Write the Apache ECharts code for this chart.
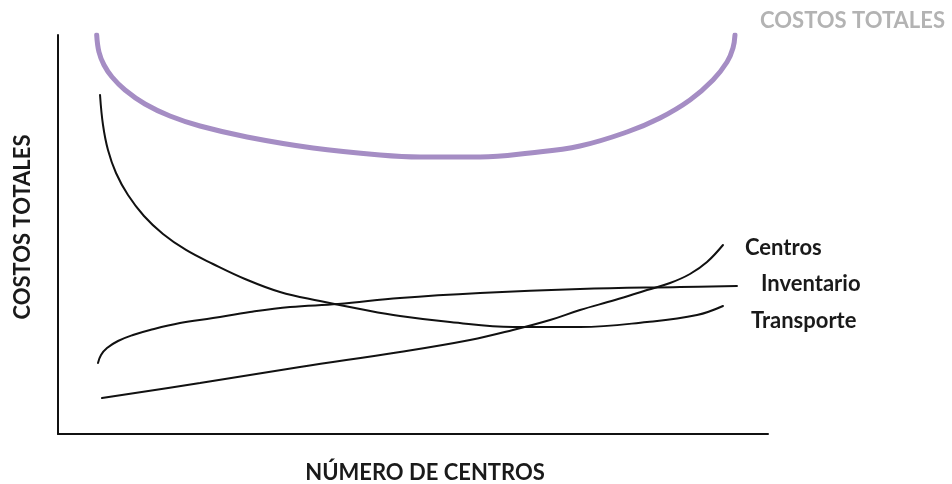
<!DOCTYPE html>
<html>
<head>
<meta charset="UTF-8">
<title></title>
<script src="https://cdn.jsdelivr.net/npm/echarts@6/dist/echarts.min.js"></script>
<style>
  html, body { margin: 0; padding: 0; background: #fff; }
  #content { width: 952px; height: 484px; }
</style>
</head>
<body>
<div id="content"></div>
<script>
// puntos: [numero de centros, costo] en escala 0-100
var costosTotales = [[5.45, 100], [5.77, 95.74], [6.48, 92.48], [7.61, 89.47], [9.44, 86.22],
    [12.25, 82.71], [15.77, 79.70], [20.0, 77.19], [26.62, 74.44], [35.92, 71.68], [45.35, 69.92],
    [50.99, 69.42], [59.44, 69.42], [66.48, 70.43], [73.52, 72.18], [80.14, 75.69], [84.79, 79.20],
    [89.01, 83.71], [92.25, 88.72], [94.23, 93.23], [95.07, 96.74], [95.35, 100]];
var transporte = [[5.92, 84.96], [6.34, 77.44], [7.04, 71.18], [8.17, 65.41], [9.86, 59.90],
    [12.11, 54.64], [14.79, 50.13], [18.03, 46.12], [21.83, 42.61], [26.34, 38.85], [31.27, 35.59],
    [36.90, 33.33], [42.54, 31.33], [48.17, 29.57], [55.21, 28.07], [64.08, 26.82], [73.52, 26.82],
    [82.96, 28.07], [90.0, 29.82], [93.66, 32.08]];
var inventario = [[5.63, 17.79], [6.06, 19.80], [6.90, 21.55], [8.45, 23.31], [10.56, 24.81],
    [12.96, 26.07], [17.18, 27.82], [21.83, 29.07], [27.04, 30.58], [32.68, 31.83], [39.44, 32.58],
    [48.17, 34.09], [59.44, 35.34], [73.52, 36.34], [87.61, 36.84], [95.63, 37.09]];
var centros = [[6.20, 9.02], [20.0, 12.78], [34.08, 16.79], [48.17, 20.55], [58.03, 23.56],
    [64.08, 26.07], [69.30, 28.57], [73.52, 31.08], [78.45, 33.58], [82.96, 36.09], [86.20, 37.84],
    [89.01, 40.10], [91.41, 43.11], [93.66, 47.37]];

var fuente = 'Lato, "Open Sans", sans-serif';

var myChart = echarts.init(document.getElementById('content'));

function curva(nombre, datos, color, ancho, etiqueta) {
    return {
        name: nombre,
        type: 'line',
        data: datos,
        smooth: 0.4,
        symbol: 'none',
        silent: true,
        lineStyle: { color: color, width: ancho, cap: 'round' },
        endLabel: etiqueta
    };
}

function etiquetaFin(texto, offset) {
    return {
        show: true,
        formatter: texto,
        offset: offset,
        color: '#1a1a1a',
        fontFamily: fuente,
        fontWeight: 'bold',
        fontSize: 22
    };
}

var option = {
    animation: false,
    legend: {
        data: ['COSTOS TOTALES'],
        icon: 'none',
        right: 2,
        top: 5,
        itemWidth: 0,
        textStyle: { color: '#b3b3b3', fontFamily: fuente, fontWeight: 'bold', fontSize: 22 }
    },
    grid: { left: 58, right: 184, top: 35, bottom: 50, containLabel: false, outerBoundsMode: 'none' },
    xAxis: {
        type: 'value',
        min: 0,
        max: 100,
        name: 'NÚMERO DE CENTROS',
        nameLocation: 'middle',
        nameGap: 28,
        nameTextStyle: { color: '#1a1a1a', fontFamily: fuente, fontWeight: 'bold', fontSize: 22, padding: [0, 0, 0, 24] },
        axisLine: { lineStyle: { color: '#111', width: 2 } },
        axisTick: { show: false },
        axisLabel: { show: false },
        splitLine: { show: false }
    },
    yAxis: {
        type: 'value',
        min: 0,
        max: 100,
        name: 'COSTOS TOTALES',
        nameLocation: 'middle',
        nameGap: 24,
        nameRotate: 90,
        nameTextStyle: { color: '#1a1a1a', fontFamily: fuente, fontWeight: 'bold', fontSize: 22, padding: [0, 0, 0, 15] },
        axisLine: { show: true, lineStyle: { color: '#111', width: 2 } },
        axisTick: { show: false },
        axisLabel: { show: false },
        splitLine: { show: false }
    },
    series: [
        curva('COSTOS TOTALES', costosTotales, '#a58dc4', 5, { show: false }),
        curva('Transporte', transporte, '#111', 2, etiquetaFin('Transporte', [20, 15])),
        curva('Inventario', inventario, '#111', 2, etiquetaFin('Inventario', [16, -2])),
        curva('Centros', centros, '#111', 2, etiquetaFin('Centros', [14, 3]))
    ]
};

myChart.setOption(option);
</script>
</body>
</html>
